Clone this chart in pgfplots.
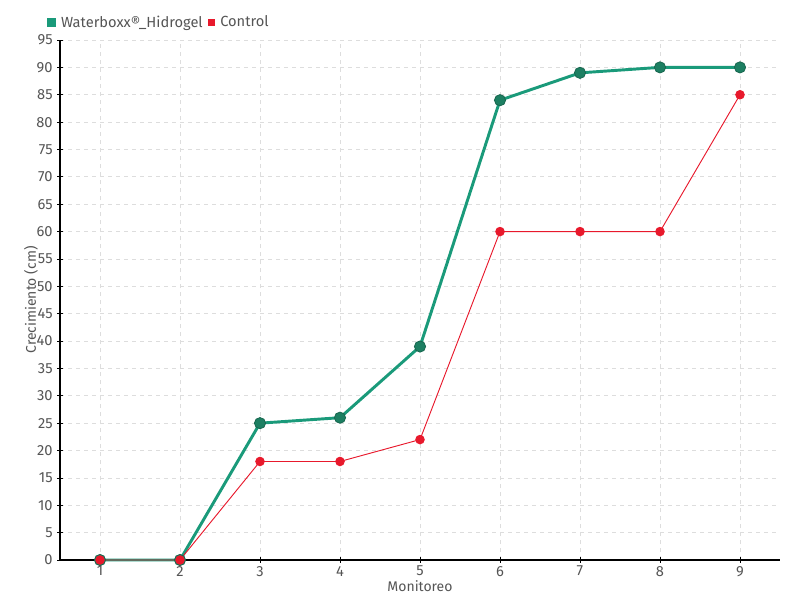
\documentclass[border=0pt]{standalone}
\usepackage{pgfplots}
\pgfplotsset{compat=1.18}
\usepackage{fontspec}
\setmainfont{Fira Sans}
\usetikzlibrary{calc}
\definecolor{wgreen}{HTML}{1A9A7A}
\definecolor{wgreendk}{HTML}{1D7F62}
\definecolor{cred}{HTML}{E8192C}
\definecolor{txt}{HTML}{555555}
\definecolor{gridc}{HTML}{DDDDDD}
\begin{document}
\begin{tikzpicture}
\begin{axis}[
    name=ax,
    scale only axis,
    width=540pt, height=390pt,
    xmin=0.5, xmax=9.5,
    ymin=0, ymax=95,
    xtick={1,...,9},
    ytick={0,5,...,95},
    axis x line*=bottom,
    axis y line*=left,
    axis line style={black, line width=0.8pt, -},
    tick style={black, line width=0.6pt},
    major tick length=4pt,
    tick align=center,
    grid=major,
    major grid style={gridc, dashed, line width=0.6pt},
    ticklabel style={font=\fontsize{11}{12}\selectfont, text=txt},
    /pgf/number format/assume math mode=true,
    xlabel={Monitoreo},
    ylabel={Crecimiento (cm)},
    label style={font=\fontsize{10.5}{12}\selectfont, text=txt},
    xlabel style={at={(rel axis cs:0.5,0)}, anchor=north, yshift=-12pt},
    ylabel style={yshift=-8pt},
    xticklabel style={yshift=1pt},
    legend style={at={(rel axis cs:0,1)}, anchor=south west, xshift=-10pt, yshift=6pt,
        draw=none, fill=none, font=\fontsize{11}{12}\selectfont, text=txt,
        legend columns=-1, column sep=2pt, inner sep=0pt},
    clip=false,
]
\addplot[wgreen, line width=2.2pt, mark=*, mark size=4.2pt,
    mark options={fill=wgreendk, draw=wgreendk!80!black, line width=0.6pt},
    legend image code/.code={\fill[wgreen] (0pt,-2.2pt) rectangle (4.4pt,2.2pt);}]
coordinates {(1,0) (2,0) (3,25) (4,26) (5,39) (6,84) (7,89) (8,90) (9,90)};
\addplot[cred, line width=0.7pt, mark=*, mark size=3.2pt,
    mark options={fill=cred, draw=cred},
    legend image code/.code={\fill[cred] (0pt,-2.2pt) rectangle (4.4pt,2.2pt);}]
coordinates {(1,0) (2,0) (3,18) (4,18) (5,22) (6,60) (7,60) (8,60) (9,85)};
\legend{Waterboxx®\_Hidrogel, Control}
\end{axis}
\pgfresetboundingbox
\useasboundingbox ($(ax.south west)+(-45pt,-30pt)$) rectangle ($(ax.north east)+(15pt,30pt)$);
\end{tikzpicture}
\end{document}
